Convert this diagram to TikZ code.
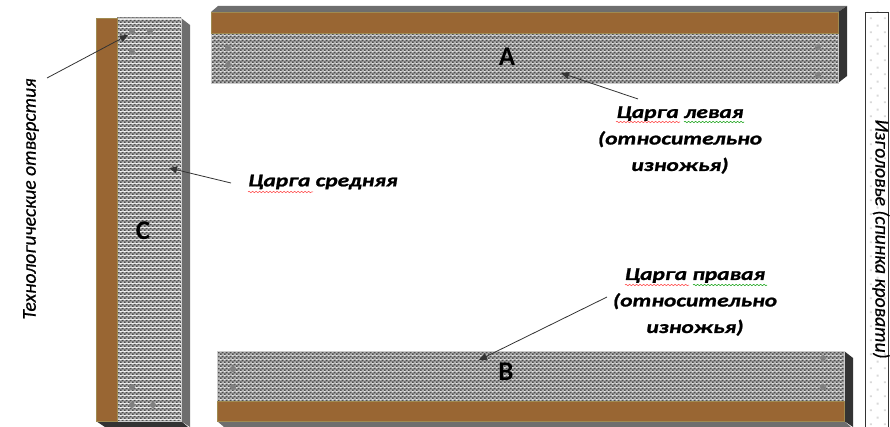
\documentclass[tikz,border=0pt]{standalone}
\usepackage{fontspec}
\setmainfont{Carlito}
\newfontfamily\notefont{Carlito Bold Italic}[FakeStretch=1.3,FakeBold=1.2]
\newfontfamily\vfont{Carlito Italic}[FakeBold=0.6]
\usetikzlibrary{patterns,decorations.pathmorphing,arrows.meta}
\definecolor{brownwood}{HTML}{996633}
\definecolor{brownedge}{HTML}{A08A50}
\definecolor{sidedark}{HTML}{333333}
\definecolor{sidemid}{HTML}{6E6E6E}
\definecolor{holegray}{HTML}{808080}
\pgfdeclarepatterninherentlycolored{mesh}{\pgfqpoint{0pt}{0pt}}{\pgfqpoint{4pt}{4pt}}{\pgfqpoint{4pt}{4pt}}{%
  \definecolor{mbg}{HTML}{B4B4B4}\definecolor{mdk}{HTML}{4E4E4E}%
  \pgfsetfillcolor{mbg}\pgfpathrectangle{\pgfqpoint{0pt}{0pt}}{\pgfqpoint{4pt}{4pt}}\pgfusepath{fill}%
  \pgfsetfillcolor{mdk}\pgfpathrectangle{\pgfqpoint{0pt}{0pt}}{\pgfqpoint{2pt}{2pt}}\pgfusepath{fill}%
  \pgfpathrectangle{\pgfqpoint{2pt}{2pt}}{\pgfqpoint{2pt}{2pt}}\pgfusepath{fill}%
}
\pgfdeclarepatternformonly{specks}{\pgfqpoint{0pt}{0pt}}{\pgfqpoint{14pt}{14pt}}{\pgfqpoint{14pt}{14pt}}{%
  \pgfpathrectangle{\pgfqpoint{2pt}{2pt}}{\pgfqpoint{2pt}{2pt}}\pgfusepath{fill}%
  \pgfpathrectangle{\pgfqpoint{9pt}{9pt}}{\pgfqpoint{2pt}{2pt}}\pgfusepath{fill}%
}
\tikzset{
  wood/.style={fill=brownwood,draw=brownedge,line width=.6pt},
  meshface/.style={pattern=mesh,draw=gray!40,line width=.5pt},
  hole/.style={circle,fill=holegray,inner sep=0pt,minimum size=6pt},
  note/.style={font=\notefont\fontsize{18}{26.5}\selectfont,align=center,inner sep=0pt},
  vnote/.style={font=\vfont\fontsize{19.6}{22}\selectfont,inner sep=0pt},
  letter/.style={font=\fontsize{27}{29}\selectfont\bfseries,inner sep=0pt},
  pointer/.style={-{Triangle[length=8pt,width=7pt]},line width=.8pt,draw=black!80},
  squig/.style={decorate,decoration={snake,amplitude=.7pt,segment length=3.5pt},line width=.5pt},
}
\begin{document}
\begin{tikzpicture}[x=1pt,y=-1pt]
\useasboundingbox (0,0) rectangle (890,427);
% C
\fill[sidemid] (181,18) -- (190,25) -- (190,427) -- (181,421) -- cycle;
\fill[sidedark] (96,421) -- (105,427) -- (188,427) -- (181,421) -- cycle;
\path[meshface] (117,18) rectangle (181,421);
\path[wood] (96,18) rectangle (117,421);
% A
\fill[sidemid] (211,12) -- (218,6) -- (847,6) -- (838,12) -- cycle;
\fill[sidedark] (838,12) -- (847,6) -- (847,76) -- (838,83) -- cycle;
\path[meshface] (211,33) rectangle (838,83);
\path[wood] (211,12) rectangle (838,33);
% B
\fill[sidedark] (844,351) -- (853,358) -- (853,427) -- (844,421) -- cycle;
\fill[sidemid] (217,421) -- (224,427) -- (851,427) -- (844,421) -- cycle;
\path[meshface] (217,351) rectangle (844,401);
\path[wood] (217,401) rectangle (844,421);
% holes
\foreach \hx/\hy in {132/31,150/31,132/52,132/387,132/405,153/405,228/48,228/65,818/47,818/75,233/369,233/387,823/358,823/387}
  \node[hole] at (\hx,\hy) {};
% headboard
\fill[white] (865,12) rectangle (888,428);
\fill[pattern=specks,pattern color=gray!30] (865,12) rectangle (888,428);
\draw[line width=.9pt,black!80] (865,428) -- (865,12.5) -- (888,12.5) -- (888,428);
% letters
\node[letter] (la) at (507,57) {A};
\node[letter] (lb) at (506,372) {B};
\node[letter] (lc) at (143,231) {C};
% labels
\node[note] (left) at (680,140) {Царга левая\\(относительно\\изножья)};
\node[note,anchor=west] (mid) at (248,182) {Царга средняя};
\node[note] (right) at (695,302) {Царга правая\\(относительно\\изножья)};
\node[vnote,rotate=90] (tech) at (31,199) {Технологические отверстия};
\node[vnote,rotate=-90] (head) at (881,239) {Изголовье (спинка кровати)};
% spell-check squiggles
\draw[squig,red!80] (616,122) coordinate (sa) -- ++(64,0);
\draw[squig,green!60!black] (684,122) coordinate (sb) -- ++(60,0);
\draw[squig,red!80] (248,192) coordinate (sc) -- ++(65,0);
\draw[squig,red!80] (625,285) coordinate (sd) -- ++(64,0);
\draw[squig,green!60!black] (693,285) coordinate (se) -- ++(74,0);
% pointers
\coordinate (t1) at (47,78); \coordinate (h1) at (128,35);
\coordinate (t2) at (638,99); \coordinate (h2) at (561,73);
\coordinate (t3) at (231,183); \coordinate (h3) at (169,168);
\coordinate (t4) at (607,297); \coordinate (h4) at (479,360);
\draw[pointer] (t1) -- (h1);
\draw[pointer] (t2) -- (h2);
\draw[pointer] (t3) -- (h3);
\draw[pointer] (t4) -- (h4);
\end{tikzpicture}
\end{document}
